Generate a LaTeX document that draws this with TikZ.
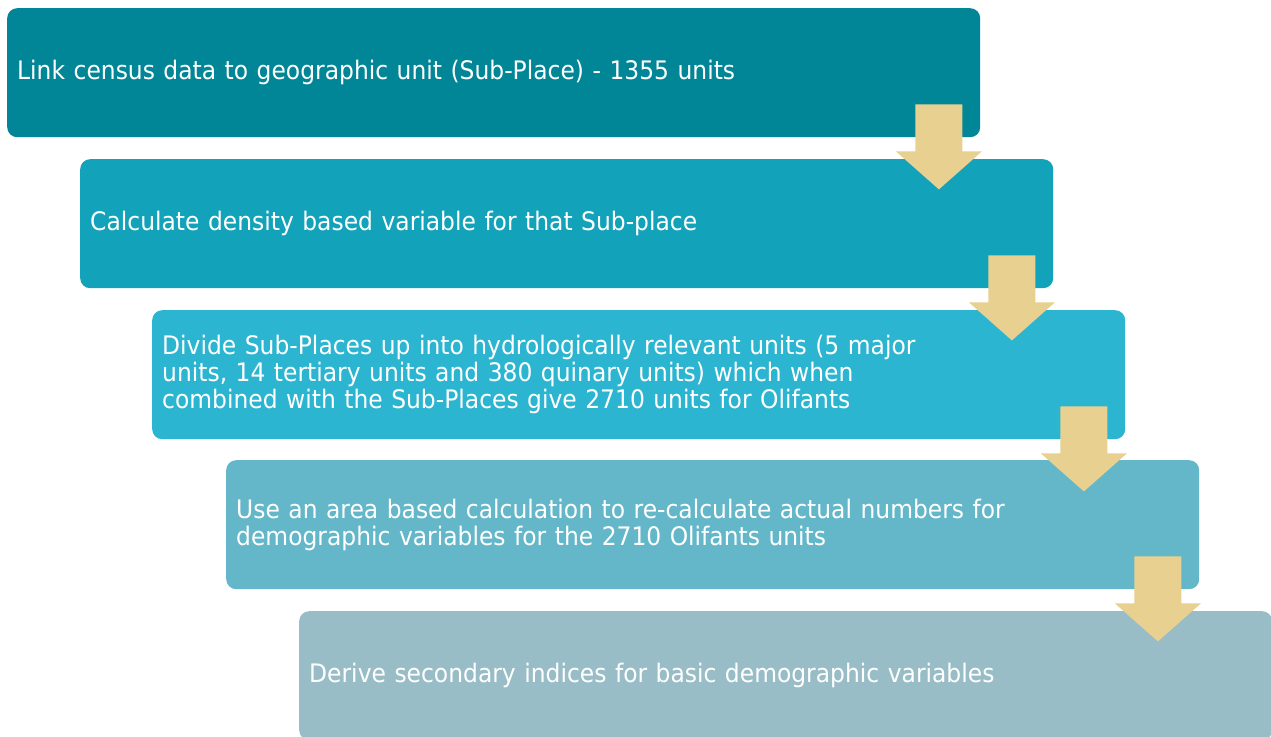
\documentclass[tikz,border=0pt]{standalone}
\usepackage{fontspec}
\setmainfont{DejaVu Sans}[FakeStretch=0.918]
\usetikzlibrary{calc}
\definecolor{cA}{RGB}{0,134,150}
\definecolor{cB}{RGB}{18,162,185}
\definecolor{cC}{RGB}{43,181,208}
\definecolor{cD}{RGB}{99,183,201}
\definecolor{cE}{RGB}{152,189,199}
\definecolor{arrowfill}{RGB}{232,208,144}
\tikzset{
  stepbox/.style={rounded corners=10pt, minimum width=973pt, minimum height=129pt,
    inner xsep=10pt, inner ysep=0pt, text width=953pt, align=left, text=white,
    font=\fontsize{25.5}{27}\selectfont, anchor=north west},
  downarrow/.style={fill=arrowfill, draw=none}
}
\begin{document}
\begin{tikzpicture}[x=1pt,y=-1pt]
\useasboundingbox (0,0) rectangle (1271,736);
\node[stepbox, fill=cA] (b1) at (7,8) {Link census data to geographic unit (Sub-Place) - 1355 units};
\node[stepbox, fill=cB] (b2) at (80,159) {Calculate density based variable for that Sub-place};
\node[stepbox, fill=cC] (b3) at (152,310) {Divide Sub-Places up into hydrologically relevant units (5 major\\units, 14 tertiary units and 380 quinary units) which when\\combined with the Sub-Places give 2710 units for Olifants};
\node[stepbox, fill=cD] (b4) at (226,460) {Use an area based calculation to re-calculate actual numbers for\\demographic variables for the 2710 Olifants units};
\node[stepbox, fill=cE] (b5) at (299,611) {Derive secondary indices for basic demographic variables};
\foreach \i in {1,2,3,4}{
  \coordinate (a\i) at ($(b\i.south east)+(-41.5,0)$);
  \fill[downarrow, shift={(a\i)}] (-23.5,-33) -- (23.5,-33) -- (23.5,14) -- (43,14) -- (0,52) -- (-43,14) -- (-23.5,14) -- cycle;
}
\end{tikzpicture}
\end{document}
